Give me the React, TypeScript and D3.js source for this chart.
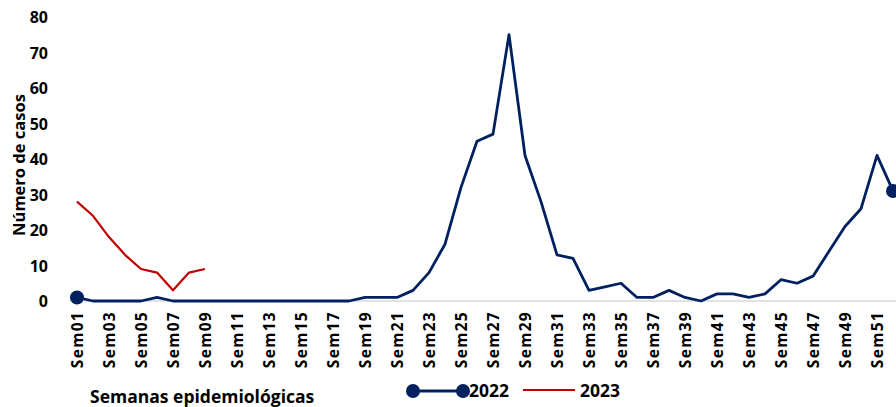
import React from "react";
import * as d3 from "d3";

const weeks: string[] = Array.from({ length: 52 }, (_, i) => `Sem${String(i + 1).padStart(2, "0")}`);

const cases2022: number[] = [
  1, 0, 0, 0, 0, 1, 0, 0, 0, 0, 0, 0, 0, 0, 0, 0, 0, 0, 1, 1, 1, 3, 8, 16, 32, 45,
  47, 75, 41, 28, 13, 12, 3, 4, 5, 1, 1, 3, 1, 0, 2, 2, 1, 2, 6, 5, 7, 14, 21, 26, 41, 31,
];
const cases2023: number[] = [28, 24, 18, 13, 9, 8, 3, 8, 9];

const yTicks: number[] = [0, 10, 20, 30, 40, 50, 60, 70, 80];
const seriesNames: string[] = ["2022", "2023"];

const W = 896;
const H = 407;
const FONT = "'Open Sans', 'Liberation Sans', sans-serif";
const NAVY = "#002060";
const RED = "#C00000";

export default function App() {
  const x = d3.scalePoint<string>().domain(weeks).range([77, 893]);
  const y = d3.scaleLinear().domain([0, 80]).range([301, 17]);

  const line = d3
    .line<number>()
    .x((_, i) => x(weeks[i]) as number)
    .y((d) => y(d));

  const labelWeeks = weeks.filter((_, i) => i % 2 === 0);
  const last = cases2022.length - 1;

  return (
    <svg
      width={W}
      height={H}
      style={{ position: "absolute", left: 0, top: 0, background: "#fff" }}
      fontFamily={FONT}
    >
      {/* baseline */}
      <line x1={69} x2={W} y1={y(0)} y2={y(0)} stroke="#d9d9d9" strokeWidth={1.5} />

      {/* y ticks */}
      {yTicks.map((t) => (
        <text
          key={t}
          x={48}
          y={y(t)}
          textAnchor="end"
          dominantBaseline="central"
          fontSize={16}
          fontWeight={700}
          fill="#000"
        >
          {t}
        </text>
      ))}

      {/* y title */}
      <text
        transform={`translate(25,165) rotate(-90)`}
        textAnchor="middle"
        fontSize={16.5}
        fontWeight={700}
        fill="#000"
      >
        Número de casos
      </text>

      {/* x labels */}
      {labelWeeks.map((w) => (
        <text
          key={w}
          transform={`translate(${(x(w) as number) + 6},311) rotate(-90)`}
          textAnchor="end"
          fontSize={15.5}
          fontWeight={700}
          letterSpacing={1.3}
          fill="#000"
        >
          {w}
        </text>
      ))}

      {/* x title */}
      <text x={90} y={403} fontSize={17.5} fontWeight={700} fill="#000">
        Semanas epidemiológicas
      </text>

      {/* lines */}
      <path d={line(cases2022) || ""} fill="none" stroke={NAVY} strokeWidth={2.8} strokeLinejoin="round" />
      <path d={line(cases2023) || ""} fill="none" stroke={RED} strokeWidth={2.2} strokeLinejoin="round" />
      <circle cx={x(weeks[0]) as number} cy={y(cases2022[0])} r={7} fill={NAVY} />
      <circle cx={x(weeks[last]) as number} cy={y(cases2022[last])} r={7} fill={NAVY} />

      {/* legend */}
      <g>
        <line x1={413} x2={463} y1={391} y2={391} stroke={NAVY} strokeWidth={2.8} />
        <circle cx={413} cy={391} r={7} fill={NAVY} />
        <circle cx={463} cy={391} r={7} fill={NAVY} />
        <text x={469} y={397} fontSize={17.5} fontWeight={700} fill="#000">
          {seriesNames[0]}
        </text>
        <line x1={523} x2={575} y1={390} y2={390} stroke={RED} strokeWidth={2.2} />
        <text x={580} y={397} fontSize={17.5} fontWeight={700} fill="#000">
          {seriesNames[1]}
        </text>
      </g>
    </svg>
  );
}
